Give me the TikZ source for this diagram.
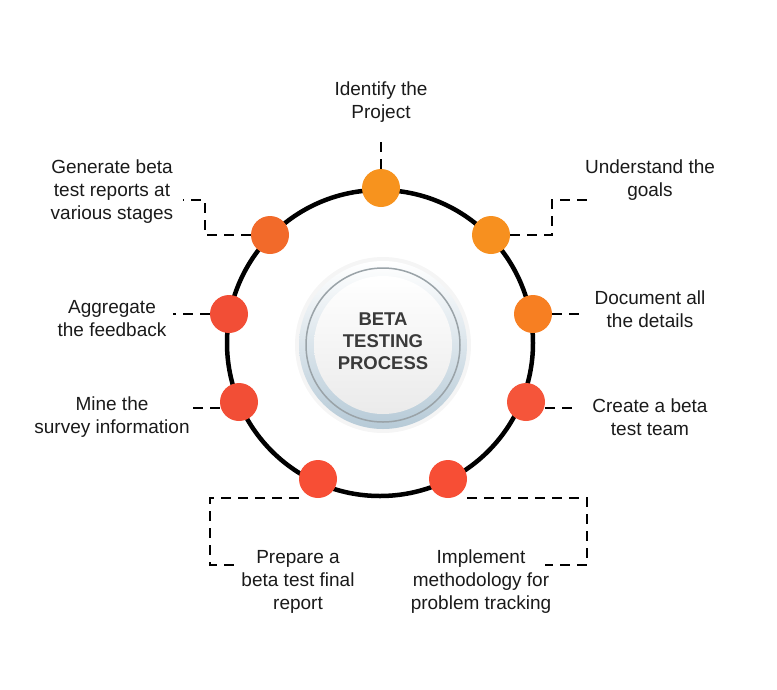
\documentclass[tikz,border=0pt]{standalone}
\usepackage{fontspec}
\setmainfont{Liberation Sans}
\usepackage{tikz}

\definecolor{ink}{HTML}{1A1A1A}
\definecolor{hub}{HTML}{3A3A3A}
\definecolor{orA}{HTML}{F7931E}
\definecolor{orB}{HTML}{F7901F}
\definecolor{orC}{HTML}{F77F22}
\definecolor{rdA}{HTML}{F5553A}
\definecolor{rdB}{HTML}{F74E35}
\definecolor{rdC}{HTML}{F24E36}
\definecolor{orD}{HTML}{F26A2A}
\definecolor{rimblue}{HTML}{B6CAD7}
\definecolor{rimgray}{HTML}{9AA3A8}

\begin{document}
\begin{tikzpicture} [x=1pt,y=-1pt,semithick]
        \tikzstyle{stage}=[circle, draw=none, inner sep = 0mm, minimum size = 38pt]
        \tikzstyle{note}=[align=center, text=ink, font=\fontsize{19}{23}\selectfont]
        \tikzstyle{link}=[black, line width=2.3pt, dash pattern=on 10pt off 7pt]
        \useasboundingbox (0,0) rectangle (777,689);

        % hub in the middle
        \fill[black!4] (383,345) circle (88);
        \shade[top color=white, bottom color=rimblue] (383,345) circle (84);
        \draw[rimgray, line width=1.5pt] (383,345) circle (77);
        \shade[top color=white, bottom color=black!8] (383,345) circle (69);
        \node[hub, font=\bfseries\fontsize{18.5}{22}\selectfont, align=center] (Hub) at (383,341) {BETA\\TESTING\\PROCESS};

        % ring
        \draw[black, line width=4.5pt] (380,343) circle (153);

        % end points of the dashed leaders
        \coordinate (c1) at (381,135);
        \coordinate (k2) at (552,200);  \coordinate (c2) at (593,200);
        \coordinate (c3) at (583,314);
        \coordinate (c4) at (575,408);
        \coordinate (k5a) at (587,498); \coordinate (k5b) at (587,565); \coordinate (c5) at (545,565);
        \coordinate (k6a) at (210,498); \coordinate (k6b) at (210,565); \coordinate (c6) at (240,565);
        \coordinate (c7) at (188,408);
        \coordinate (c8) at (173,314);
        \coordinate (k9) at (205,200);  \coordinate (c9) at (183,200);

        \node[stage, fill=orA] (Identify) at (381,188) {};
        \node[stage, fill=orB] (Goals) at (491,235) {};
        \node[stage, fill=orC] (Document) at (533,314) {};
        \node[stage, fill=rdA] (Team) at (526,402) {};
        \node[stage, fill=rdB] (Tracking) at (448,479) {};
        \node[stage, fill=rdB] (Final) at (318,479) {};
        \node[stage, fill=rdC] (Mine) at (239,402) {};
        \node[stage, fill=rdC] (Aggregate) at (229,314) {};
        \node[stage, fill=orD] (Reports) at (270,235) {};

        \path[link]
        (Identify.north) edge (c1)
        (Document.east) edge (c3)
        (c4 -| Team.east) edge (c4)
        (c7 -| Mine.west) edge (c7)
        (Aggregate.west) edge (c8);
        \draw[link] (Goals.east) -| (k2) -- (c2);
        \draw[link] (Reports.west) -| (k9) -- (c9);
        \draw[link] (Tracking.east |- k5a) -- (k5a) -- (k5b) -- (c5);
        \draw[link] (Final.west |- k6a) -- (k6a) -- (k6b) -- (c6);

        \node[note] (tIdentify) at (381,102) {Identify the\\Project};
        \node[note] (tGoals) at (650,180) {Understand the\\goals};
        \node[note] (tDocument) at (650,309) {Document all\\the details};
        \node[note] (tTeam) at (650,417) {Create a beta\\test team};
        \node[note] (tTracking) at (481,582) {Implement\\methodology for\\problem tracking};
        \node[note] (tFinal) at (298,582) {Prepare a\\beta test final\\report};
        \node[note] (tMine) at (112,417) {Mine the\\survey information};
        \node[note] (tAggregate) at (112,319) {Aggregate\\the feedback};
        \node[note] (tReports) at (112,192) {Generate beta\\test reports at\\various stages};
      \end{tikzpicture}
\end{document}
